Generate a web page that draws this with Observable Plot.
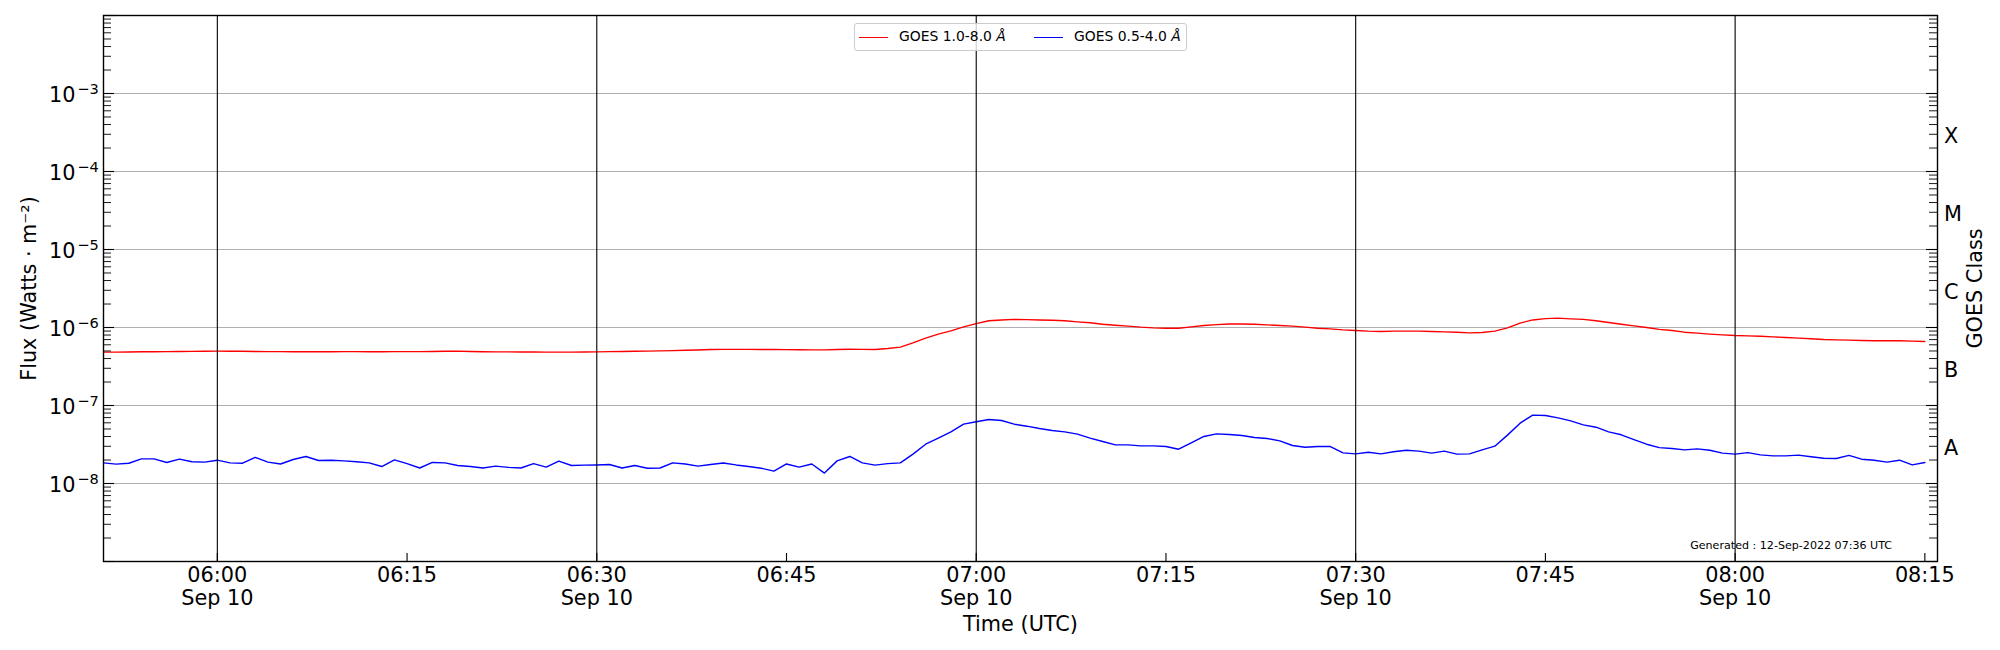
<!DOCTYPE html>
<html>
<head>
<meta charset="utf-8">
<script src="https://cdn.jsdelivr.net/npm/d3@7"></script>
<script src="https://cdn.jsdelivr.net/npm/@observablehq/plot@0.6"></script>
<style>
html, body { margin: 0; padding: 0; background: #ffffff; }
#wrap { position: relative; width: 2000px; height: 650px; font-family: "DejaVu Sans", sans-serif; }
#legend { position: absolute; left: 854px; top: 23px; width: 331px; height: 26px;
  border: 1px solid #cccccc; border-radius: 3px; background: rgba(255,255,255,0.8);
  font-family: "DejaVu Sans", sans-serif; font-size: 13.9px; color: #000; box-sizing: content-box; }
#legend .sw { position: absolute; top: 13px; width: 29px; height: 1.4px; }
#legend .lb { position: absolute; top: 4px; line-height: 16px; white-space: nowrap; }
</style>
</head>
<body>
<div id="wrap"></div>
<script>
// ---- data (1-minute GOES XRS fluxes, W/m^2) ----
const startTime = "2022-09-10T05:51Z";
const endTime = "2022-09-10T08:16Z";
const seriesNames = ["GOES 1.0-8.0 Å", "GOES 0.5-4.0 Å"];
const xrsb = [
  4.83e-7,4.84e-7,4.85e-7,4.88e-7,4.89e-7,4.90e-7,4.92e-7,4.94e-7,4.96e-7,
  4.98e-7,4.97e-7,4.95e-7,4.93e-7,4.90e-7,4.90e-7,4.89e-7,4.89e-7,4.88e-7,4.89e-7,
  4.90e-7,4.90e-7,4.89e-7,4.89e-7,4.90e-7,4.90e-7,4.90e-7,4.93e-7,4.96e-7,4.98e-7,
  4.93e-7,4.88e-7,4.87e-7,4.87e-7,4.86e-7,4.85e-7,4.84e-7,4.83e-7,4.83e-7,4.85e-7,
  4.87e-7,4.90e-7,4.93e-7,4.96e-7,4.98e-7,5.01e-7,5.05e-7,5.10e-7,5.15e-7,5.22e-7,
  5.25e-7,5.24e-7,5.24e-7,5.23e-7,5.22e-7,5.21e-7,5.19e-7,5.17e-7,5.17e-7,5.22e-7,
  5.27e-7,5.25e-7,5.22e-7,5.38e-7,5.60e-7,6.36e-7,7.30e-7,8.22e-7,9.06e-7,1.02e-6,
  1.12e-6,1.22e-6,1.25e-6,1.27e-6,1.26e-6,1.25e-6,1.24e-6,1.22e-6,1.18e-6,1.15e-6,
  1.10e-6,1.07e-6,1.04e-6,1.01e-6,9.90e-7,9.80e-7,9.80e-7,1.02e-6,1.06e-6,1.09e-6,
  1.11e-6,1.11e-6,1.10e-6,1.08e-6,1.06e-6,1.04e-6,1.01e-6,9.80e-7,9.60e-7,9.33e-7,
  9.16e-7,8.98e-7,8.89e-7,8.98e-7,8.98e-7,8.98e-7,8.89e-7,8.80e-7,8.71e-7,8.54e-7,
  8.63e-7,8.98e-7,9.90e-7,1.14e-6,1.25e-6,1.30e-6,1.32e-6,1.29e-6,1.27e-6,1.22e-6,
  1.16e-6,1.10e-6,1.05e-6,1.00e-6,9.47e-7,9.16e-7,8.71e-7,8.46e-7,8.22e-7,8.05e-7,
  7.89e-7,7.82e-7,7.74e-7,7.59e-7,7.44e-7,7.30e-7,7.16e-7,7.02e-7,6.95e-7,6.88e-7,
  6.81e-7,6.75e-7,6.75e-7,6.75e-7,6.68e-7,6.62e-7
];
const xrsa = [
  1.84e-8,1.77e-8,1.82e-8,2.07e-8,2.07e-8,1.86e-8,2.05e-8,1.90e-8,1.88e-8,
  1.99e-8,1.84e-8,1.82e-8,2.16e-8,1.88e-8,1.78e-8,2.03e-8,2.22e-8,1.97e-8,1.99e-8,
  1.95e-8,1.90e-8,1.84e-8,1.65e-8,2.01e-8,1.80e-8,1.58e-8,1.86e-8,1.84e-8,1.70e-8,
  1.65e-8,1.58e-8,1.67e-8,1.61e-8,1.58e-8,1.80e-8,1.62e-8,1.94e-8,1.70e-8,1.72e-8,
  1.73e-8,1.75e-8,1.58e-8,1.70e-8,1.57e-8,1.58e-8,1.84e-8,1.78e-8,1.67e-8,1.75e-8,
  1.83e-8,1.73e-8,1.65e-8,1.57e-8,1.44e-8,1.78e-8,1.62e-8,1.78e-8,1.36e-8,1.95e-8,
  2.22e-8,1.84e-8,1.72e-8,1.80e-8,1.84e-8,2.38e-8,3.19e-8,3.81e-8,4.59e-8,5.76e-8,
  6.18e-8,6.62e-8,6.43e-8,5.76e-8,5.43e-8,5.07e-8,4.78e-8,4.59e-8,4.29e-8,3.81e-8,
  3.45e-8,3.13e-8,3.13e-8,3.04e-8,3.04e-8,2.98e-8,2.75e-8,3.32e-8,4.01e-8,4.33e-8,
  4.25e-8,4.12e-8,3.89e-8,3.78e-8,3.52e-8,3.07e-8,2.92e-8,2.98e-8,2.98e-8,2.47e-8,
  2.40e-8,2.52e-8,2.40e-8,2.55e-8,2.67e-8,2.60e-8,2.45e-8,2.60e-8,2.38e-8,2.40e-8,
  2.70e-8,3.01e-8,4.17e-8,5.94e-8,7.52e-8,7.45e-8,6.95e-8,6.36e-8,5.65e-8,5.27e-8,
  4.59e-8,4.21e-8,3.66e-8,3.19e-8,2.88e-8,2.81e-8,2.70e-8,2.78e-8,2.67e-8,2.45e-8,
  2.38e-8,2.49e-8,2.33e-8,2.26e-8,2.26e-8,2.31e-8,2.20e-8,2.11e-8,2.09e-8,2.29e-8,
  2.05e-8,1.99e-8,1.88e-8,1.99e-8,1.73e-8,1.86e-8
];
// ---- axes / labels ----
const decadeExponents = [-8, -7, -6, -5, -4, -3];
const goesClasses = ["A", "B", "C", "M", "X"];
const goesClassExponents = [-7.5, -6.5, -5.5, -4.5, -3.5];
const xTickLabels = ["06:00","06:15","06:30","06:45","07:00","07:15","07:30","07:45","08:00","08:15"];
const xMajorLabels = ["06:00","06:30","07:00","07:30","08:00"];
const dateLabel = "Sep 10";
const generatedText = "Generated : 12-Sep-2022 07:36 UTC";

const toTime = (hm) => new Date(`2022-09-10T${hm}Z`);
const t0 = new Date(startTime).getTime();
const rows = [];
xrsb.forEach((v, i) => rows.push({t: new Date(t0 + i * 60000), v, s: seriesNames[0]}));
xrsa.forEach((v, i) => rows.push({t: new Date(t0 + i * 60000), v, s: seriesNames[1]}));

const allDecades = d3.range(-9, -1).map(e => 10 ** e);
const minorTicks = [];
for (let e = -9; e <= -3; e++) for (let k = 2; k <= 9; k++) minorTicks.push(k * 10 ** e);

const W = 2000, H = 650;
const mL = 103, mR = 63, mT = 15, mB = 89;
const iw = W - mL - mR, ih = H - mT - mB;
const FS = 20.8;

const plot = Plot.plot({
  width: W, height: H,
  marginLeft: mL, marginRight: mR, marginTop: mT, marginBottom: mB,
  style: {fontFamily: "DejaVu Sans", background: "#ffffff", color: "#000"},
  x: {type: "utc", domain: [new Date(startTime), new Date(endTime)], axis: null},
  y: {type: "log", domain: [1e-9, 1e-2], axis: null},
  color: {domain: seriesNames, range: ["#ff0000", "#0000ff"]},
  marks: [
    Plot.ruleY(decadeExponents, {y: e => 10 ** e, stroke: "#b0b0b0", strokeWidth: 1.1}),
    Plot.line(rows, {x: "t", y: "v", z: "s", stroke: "s", strokeWidth: 1.4}),
    Plot.ruleX(xMajorLabels, {x: toTime, stroke: "#000", strokeWidth: 1.1}),
    // inward ticks
    Plot.tickY(allDecades, {y: d => d, stroke: "#000", strokeWidth: 1.1, insetRight: iw - 11}),
    Plot.tickY(minorTicks, {y: d => d, stroke: "#000", strokeWidth: 0.9, insetRight: iw - 8}),
    Plot.tickY(allDecades, {y: d => d, stroke: "#000", strokeWidth: 1.1, insetLeft: iw - 11}),
    Plot.tickY(minorTicks, {y: d => d, stroke: "#000", strokeWidth: 0.9, insetLeft: iw - 8}),
    Plot.tickX(xTickLabels, {x: toTime, stroke: "#000", strokeWidth: 1.1, insetTop: ih - 8}),
    // y tick labels 10^e
    Plot.text(decadeExponents, {y: e => 10 ** e, frameAnchor: "left", text: () => "10",
      textAnchor: "end", dx: -28, dy: 1.7, fontSize: FS, fill: "#000"}),
    Plot.text(decadeExponents, {y: e => 10 ** e, frameAnchor: "left", text: e => "\u2212" + Math.abs(e),
      textAnchor: "end", dx: -4.7, dy: -3.7, fontSize: 14.6, fill: "#000"}),
    // GOES class labels
    Plot.text(goesClasses, {y: (c, i) => 10 ** goesClassExponents[i], frameAnchor: "right", text: c => c,
      textAnchor: "start", dx: 6.5, dy: 3.6, fontSize: FS, fill: "#000"}),
    // x tick labels
    Plot.text(xTickLabels, {x: toTime, frameAnchor: "bottom",
      text: d => xMajorLabels.includes(d) ? d + "\n" + dateLabel : d,
      textAnchor: "middle", lineAnchor: "top", lineHeight: 1.1, dy: 4.5, fontSize: FS, fill: "#000"}),
    // axis titles
    Plot.text(["Time (UTC)"], {frameAnchor: "bottom", text: d => d, textAnchor: "middle", lineAnchor: "middle",
      dy: 62.5, fontSize: FS, fill: "#000"}),
    Plot.text(["Flux (Watts \u00b7 m\u207b\u00b2)"], {frameAnchor: "left", text: d => d, rotate: -90,
      textAnchor: "middle", lineAnchor: "middle", dx: -74, fontSize: FS, fill: "#000"}),
    Plot.text(["GOES Class"], {frameAnchor: "right", text: d => d, rotate: -90,
      textAnchor: "middle", lineAnchor: "middle", dx: 38, fontSize: FS, fill: "#000"}),
    Plot.text([generatedText], {frameAnchor: "bottom-right", text: d => d, textAnchor: "end",
      lineAnchor: "middle", dx: -45.4, dy: -16.3, fontSize: 11.1, fill: "#000"}),
    Plot.frame({stroke: "#000", strokeWidth: 1.4})
  ]
});

const wrap = document.getElementById("wrap");
wrap.appendChild(plot);

// legend (matplotlib-style, upper center inside the axes)
const legend = document.createElement("div");
legend.id = "legend";
const colors = ["#ff0000", "#0000ff"];
const swLeft = [4, 179], lbLeft = [44, 219];
seriesNames.forEach((name, i) => {
  const sw = document.createElement("span");
  sw.className = "sw"; sw.style.left = swLeft[i] + "px"; sw.style.background = colors[i];
  const lb = document.createElement("span");
  lb.className = "lb"; lb.style.left = lbLeft[i] + "px";
  lb.innerHTML = name.replace("Å", "<i>Å</i>");
  legend.appendChild(sw); legend.appendChild(lb);
});
wrap.appendChild(legend);
</script>
</body>
</html>
